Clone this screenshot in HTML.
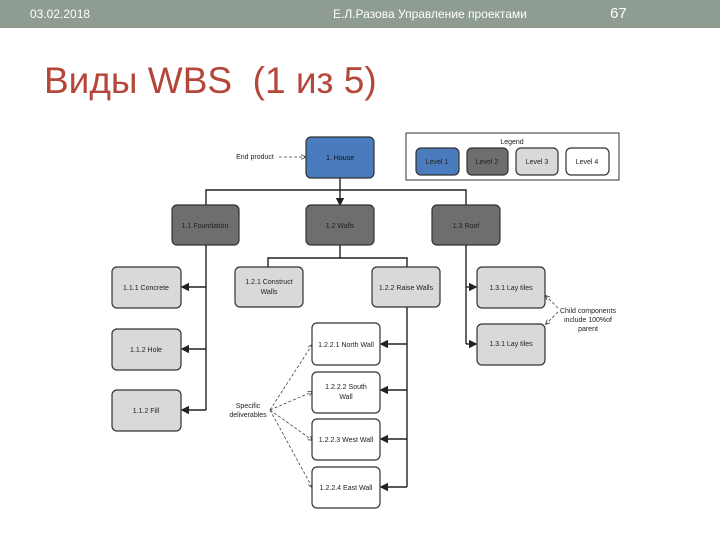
<!DOCTYPE html>
<html><head><meta charset="utf-8"><style>
body{margin:0;width:720px;height:540px;background:#fff;position:relative;overflow:hidden;font-family:"Liberation Sans",sans-serif}
.bar{position:absolute;left:0;top:0;width:720px;height:28px;background:#8e9c92;color:#fff;font-size:12px}
.bar span{position:absolute;top:7px}
h1{position:absolute;left:44px;top:60px;margin:0;font-weight:normal;font-size:37px;color:#b5473a}
</style></head><body>
<div class="bar"><span style="left:30px">03.02.2018</span><span style="left:333px">Е.Л.Разова Управление проектами</span><span style="left:610px;font-size:15px;top:5px">67</span></div>
<h1>Виды WBS&nbsp; (1 из 5)</h1>
<svg width="720" height="540" style="position:absolute;left:0;top:0" font-family="Liberation Sans, sans-serif" font-size="7">
<defs><marker id="a" markerWidth="6" markerHeight="6" refX="5" refY="3" orient="auto"><path d="M0,0L6,3L0,6z" fill="#222"/></marker>
<marker id="b" markerWidth="6" markerHeight="6" refX="5" refY="3" orient="auto"><path d="M0,0L6,3L0,6" fill="none" stroke="#444"/></marker></defs>
<g stroke="#222" stroke-width="1.4" fill="none">
<path d="M340 178V205" marker-end="url(#a)"/>
<path d="M206 205V190H466V205" />
<path d="M206 245V410"/><path d="M206 287H182" marker-end="url(#a)"/><path d="M206 349H182" marker-end="url(#a)"/><path d="M206 410H182" marker-end="url(#a)"/>
<path d="M340 245V258"/><path d="M268 267V258H407V267"/>
<path d="M407 307V487"/><path d="M407 344H381" marker-end="url(#a)"/><path d="M407 390H381" marker-end="url(#a)"/><path d="M407 439H381" marker-end="url(#a)"/><path d="M407 487H381" marker-end="url(#a)"/>
<path d="M466 245V344"/><path d="M466 287H476" marker-end="url(#a)"/><path d="M466 344H476" marker-end="url(#a)"/>
</g>
<g stroke="#444" stroke-width="0.8" fill="none" stroke-dasharray="3,2">
<path d="M279 157H305" marker-end="url(#b)"/>
<path d="M270 410L312 345" marker-end="url(#b)"/><path d="M270 410L312 392" marker-end="url(#b)"/><path d="M270 410L312 440" marker-end="url(#b)"/><path d="M270 410L312 487" marker-end="url(#b)"/>
<path d="M558 308L546 296" marker-end="url(#b)"/><path d="M558 312L546 324" marker-end="url(#b)"/>
</g>
<g stroke="#333" stroke-width="1.2">
<rect x="306" y="137" width="68" height="41" rx="5" fill="#4a7bbd"/>
<rect x="406" y="133" width="213" height="47" fill="#fff" stroke-width="1"/>
<rect x="416" y="148" width="43" height="27" rx="5" fill="#4a7bbd"/>
<rect x="467" y="148" width="41" height="27" rx="5" fill="#6e6e6e"/>
<rect x="516" y="148" width="42" height="27" rx="5" fill="#d9d9d9"/>
<rect x="566" y="148" width="43" height="27" rx="5" fill="#fff"/>
<rect x="172" y="205" width="67" height="40" rx="5" fill="#6e6e6e"/>
<rect x="306" y="205" width="68" height="40" rx="5" fill="#6e6e6e"/>
<rect x="432" y="205" width="68" height="40" rx="5" fill="#6e6e6e"/>
<g fill="#d9d9d9">
<rect x="112" y="267" width="69" height="41" rx="5"/><rect x="112" y="329" width="69" height="41" rx="5"/><rect x="112" y="390" width="69" height="41" rx="5"/>
<rect x="235" y="267" width="68" height="40" rx="5"/><rect x="372" y="267" width="68" height="40" rx="5"/>
<rect x="477" y="267" width="68" height="41" rx="5"/><rect x="477" y="324" width="68" height="41" rx="5"/></g>
<g fill="#fff">
<rect x="312" y="323" width="68" height="42" rx="5"/><rect x="312" y="372" width="68" height="41" rx="5"/><rect x="312" y="419" width="68" height="41" rx="5"/><rect x="312" y="467" width="68" height="41" rx="5"/></g>
</g>
<g fill="#222" text-anchor="middle">
<text x="340" y="160" fill="#111">1. House</text>
<text x="512" y="144">Legend</text>
<text x="437" y="164">Level 1</text><text x="487" y="164">Level 2</text><text x="537" y="164">Level 3</text><text x="587" y="164">Level 4</text>
<text x="205" y="228">1.1 Foundation</text><text x="340" y="228">1.2 Walls</text><text x="466" y="228">1.3 Roof</text>
<text x="146" y="290">1.1.1 Concrete</text><text x="146" y="352">1.1.2 Hole</text><text x="146" y="413">1.1.2 Fill</text>
<text x="269" y="284">1.2.1 Construct</text><text x="269" y="294">Walls</text>
<text x="406" y="290">1.2.2  Raise Walls</text>
<text x="511" y="290">1.3.1 Lay tiles</text><text x="511" y="346">1.3.1 Lay tiles</text>
<text x="346" y="347">1.2.2.1  North Wall</text>
<text x="346" y="389">1.2.2.2  South</text><text x="346" y="399">Wall</text>
<text x="346" y="442">1.2.2.3  West Wall</text><text x="346" y="490">1.2.2.4  East Wall</text>
<text x="248" y="408">Specific</text><text x="248" y="417">deliverables</text>
<text x="588" y="313">Child components</text><text x="588" y="322">include 100%of</text><text x="588" y="331">parent</text>
<text x="255" y="159">End product</text>
</g>
</svg>
</body></html>
